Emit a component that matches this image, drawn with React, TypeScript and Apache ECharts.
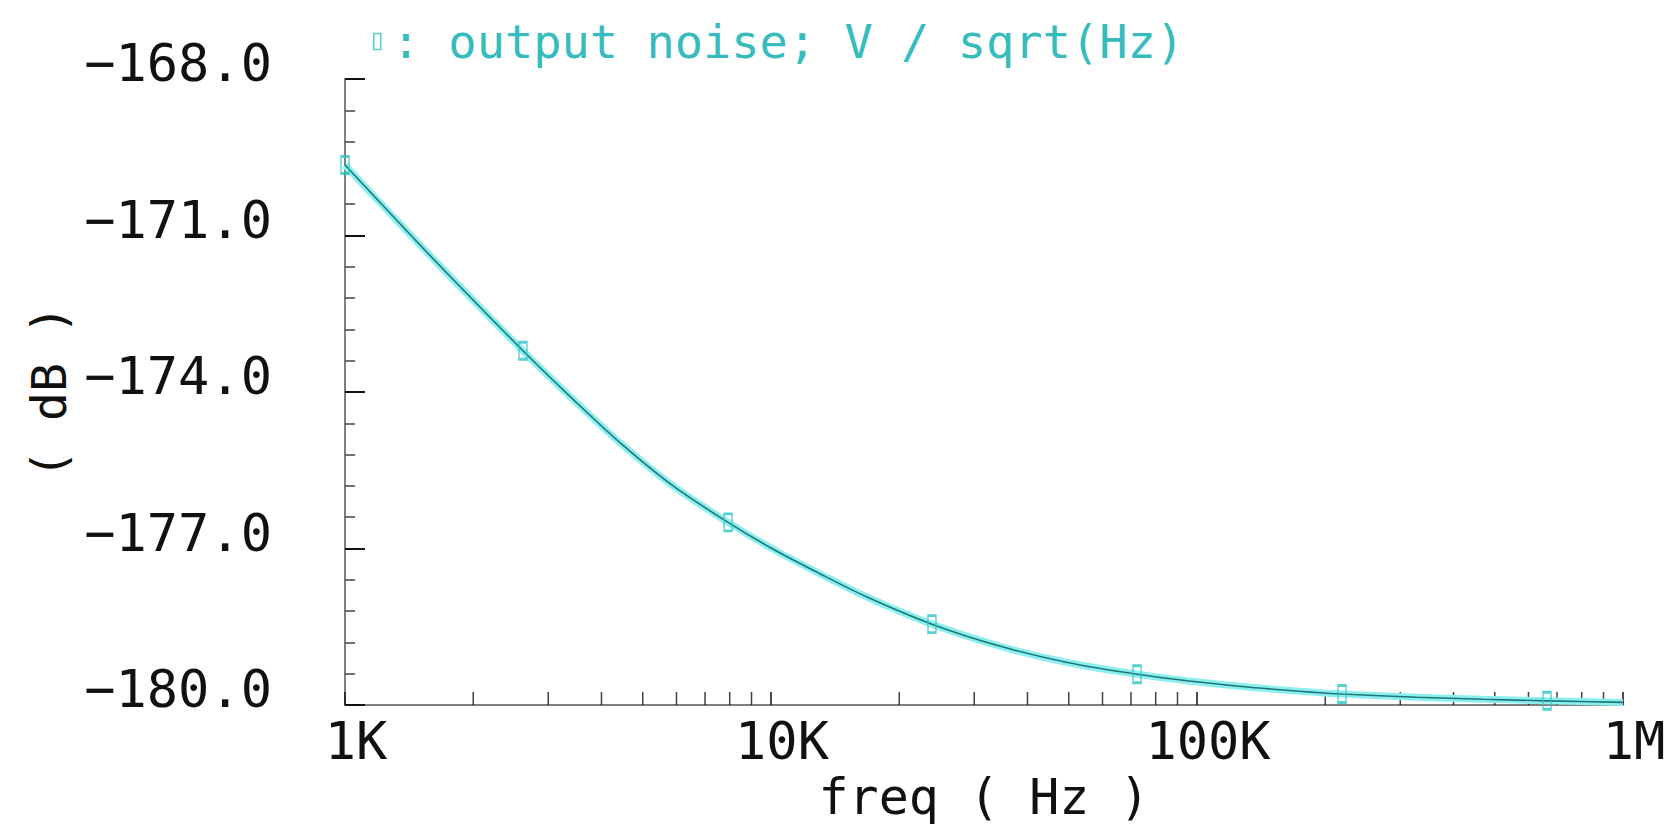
import React, { useEffect, useRef } from 'react';
import * as echarts from 'echarts';

// ---- data ----
const freqHz = [1000, 1275, 1670, 2617, 3430, 4490, 5890, 7930, 10100, 13000, 16800, 23870, 34400, 49300, 72300, 101000, 133000, 191000, 218900, 328000, 468000, 663000, 1000000];
const noiseDb = [-169.65, -170.57, -171.58, -173.21, -174.14, -175.02, -175.8, -176.5, -177.01, -177.48, -177.93, -178.45, -178.87, -179.18, -179.41, -179.56, -179.66, -179.76, -179.79, -179.85, -179.89, -179.92, -179.95];
const markerFreqHz = [1000, 2617, 7930, 23870, 72300, 218900, 663000];
const markerDb = [-169.65, -173.21, -176.5, -178.45, -179.41, -179.79, -179.92];

const seriesName = 'output noise; V / sqrt(Hz)';
const xTickLabels = ['1K', '10K', '100K', '1M'];
const xDecadeStarts = [1000, 10000, 100000];
const xMinorMultipliers = [2, 3, 4, 5, 6, 7, 8, 9];
const yMin = -180;
const yMax = -168;
const yStep = 3;

const FONT = '"DejaVu Sans Mono", "Liberation Mono", monospace';

export default function App() {
  const ref = useRef<HTMLDivElement>(null);

  useEffect(() => {
    if (!ref.current) return;
    const chart = echarts.init(ref.current, undefined, { renderer: 'svg' });

    const curve = freqHz.map((f, i) => [f, noiseDb[i]]);
    const markers = markerFreqHz.map((f, i) => [f, markerDb[i]]);
    const minorTicks = xDecadeStarts.flatMap((d) => xMinorMultipliers.map((m) => [d * m, yMin]));

    chart.setOption({
      animation: false,
      backgroundColor: '#ffffff',
      grid: { left: 345, right: 50, top: 79, bottom: 127, containLabel: false },
      legend: {
        left: 368,
        top: 13,
        itemWidth: 7,
        itemHeight: 16,
        itemGap: 0,
        selectedMode: false,
        data: [
          {
            name: seriesName,
            icon: 'rect',
            itemStyle: { color: 'rgba(0,0,0,0)', borderColor: '#2cc4c4', borderWidth: 1.5 },
          },
        ],
        formatter: (n: string) => ': ' + n,
        textStyle: { fontFamily: FONT, fontSize: 47, color: '#36bcbc', padding: [0, 0, 0, 6] },
      },
      xAxis: {
        type: 'log',
        logBase: 10,
        min: 1000,
        max: 1000000,
        name: 'freq ( Hz )',
        nameLocation: 'middle',
        nameGap: 66,
        nameTextStyle: { fontFamily: FONT, fontSize: 50, color: '#111' },
        axisLine: { show: true, lineStyle: { color: '#555', width: 1.5 } },
        axisTick: { show: true, inside: true, length: 13, lineStyle: { color: '#111', width: 1.5 } },
        minorTick: { show: false },
        splitLine: { show: false },
        axisLabel: {
          fontFamily: FONT,
          fontSize: 52,
          color: '#111',
          margin: 10,
          padding: [0, 0, 0, 22],
          formatter: (v: number) => xTickLabels[Math.round(Math.log10(v)) - 3] ?? '',
        },
      },
      yAxis: {
        type: 'value',
        min: yMin,
        max: yMax,
        interval: yStep,
        name: '( dB )',
        nameLocation: 'middle',
        nameRotate: 90,
        nameGap: 270,
        nameTextStyle: { fontFamily: FONT, fontSize: 48, color: '#111' },
        axisLine: { show: true, lineStyle: { color: '#555', width: 1.5 } },
        axisTick: { show: true, inside: true, length: 20, lineStyle: { color: '#111', width: 2 } },
        minorTick: { show: true, splitNumber: 5, length: 10, lineStyle: { color: '#444', width: 1.5 } },
        splitLine: { show: false },
        axisLabel: {
          fontFamily: FONT,
          fontSize: 52,
          color: '#111',
          margin: 73,
          verticalAlign: 'bottom',
          lineHeight: 32,
          formatter: (v: number) => v.toFixed(1).replace('-', '\u2212'),
        },
      },
      series: [
        {
          type: 'scatter',
          name: 'minor-ticks',
          data: minorTicks,
          symbol: 'rect',
          symbolSize: [1.5, 13],
          symbolOffset: [0, -6.5],
          itemStyle: { color: '#111' },
          silent: true,
          z: 1,
        },
        {
          type: 'line',
          name: 'halo',
          data: curve,
          smooth: 0.3,
          showSymbol: false,
          lineStyle: { color: '#8cefef', width: 7 },
          silent: true,
          z: 2,
        },
        {
          type: 'line',
          name: 'core',
          data: curve,
          smooth: 0.3,
          showSymbol: false,
          lineStyle: { color: '#1f7676', width: 1.6 },
          silent: true,
          z: 3,
        },
        {
          type: 'scatter',
          name: seriesName,
          data: markers,
          symbol: 'rect',
          symbolSize: [8, 17],
          itemStyle: { color: 'rgba(0,0,0,0)', borderColor: '#2cc4c4', borderWidth: 2 },
          z: 4,
        },
      ],
    });

    return () => chart.dispose();
  }, []);

  return (
    <div
      ref={ref}
      style={{ position: 'absolute', left: 0, top: 0, width: '1673px', height: '832px', background: '#fff' }}
    />
  );
}
